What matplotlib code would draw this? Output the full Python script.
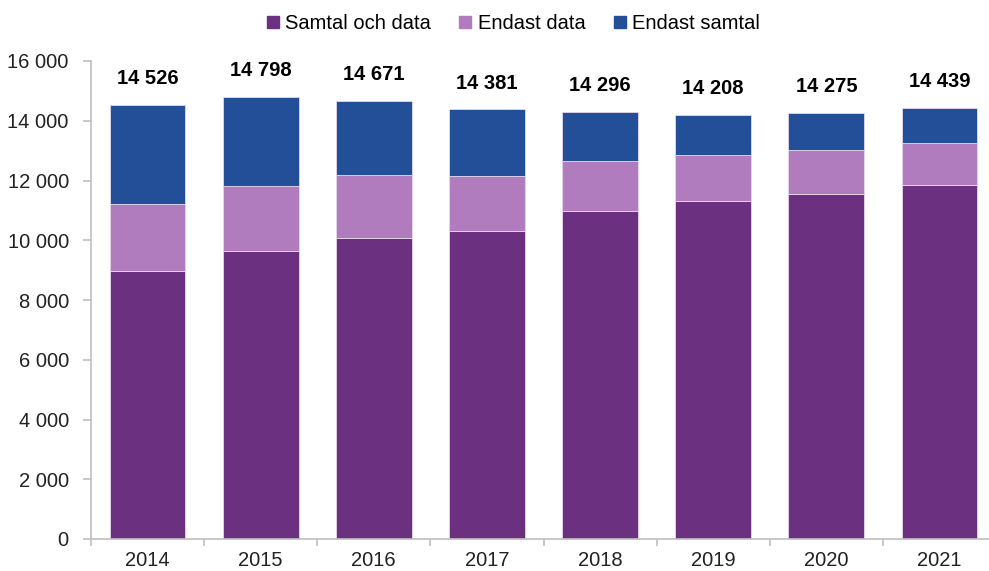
import matplotlib.pyplot as plt
from matplotlib.lines import Line2D
import numpy as np

plt.rcParams['font.family'] = ['Liberation Sans', 'DejaVu Sans']

years = ['2014', '2015', '2016', '2017', '2018', '2019', '2020', '2021']
samtal_och_data = [8980, 9640, 10070, 10310, 10990, 11310, 11550, 11840]
endast_data = [2235, 2180, 2100, 1830, 1670, 1540, 1470, 1420]
totals = [14526, 14798, 14671, 14381, 14296, 14208, 14275, 14439]
endast_samtal = [t - a - b for t, a, b in zip(totals, samtal_och_data, endast_data)]

labels = ['Samtal och data', 'Endast data', 'Endast samtal']
colors = ['#6B3080', '#B07CBE', '#234E98']

fig = plt.figure(figsize=(9.89, 5.71), dpi=100)
ax = fig.add_axes([91 / 989, 32 / 571, 905 / 989, 478 / 571])

x = np.arange(len(years))
w = 0.67
bottom = np.zeros(len(years))
for vals, col in zip([samtal_och_data, endast_data, endast_samtal], colors):
    ax.bar(x, vals, w, bottom=bottom, color=col, edgecolor='#E6D8EC', linewidth=0.6)
    bottom += np.array(vals)

for xi, t in zip(x, totals):
    ax.annotate(f'{t:,}'.replace(',', ' '), (xi, t), xytext=(0, 12), textcoords='offset points',
                ha='center', va='bottom', fontsize=14.5, fontweight='bold')

ax.set_xlim(-0.5, len(years) - 0.5)
ax.set_ylim(0, 16000)
ax.set_yticks(range(0, 16001, 2000))
ax.set_yticklabels([f'{v:,}'.replace(',', ' ') for v in range(0, 16001, 2000)])
ax.set_xticks(x)
ax.set_xticklabels(years)
ax.set_xticks(np.arange(-0.5, len(years)), minor=True)

for s in ['top', 'right']:
    ax.spines[s].set_visible(False)
for s in ['left', 'bottom']:
    ax.spines[s].set_color('#BFBFBF')
    ax.spines[s].set_linewidth(1.2)

ax.tick_params(axis='y', length=6, width=1.2, color='#BFBFBF', pad=10, labelsize=14.5, labelcolor='#222222')
ax.tick_params(axis='x', which='major', length=0, pad=9, labelsize=14.5, labelcolor='#222222')
ax.tick_params(axis='x', which='minor', length=5, width=1.2, color='#BFBFBF')

handles = [Line2D([], [], marker='s', linestyle='none', markersize=9, color=c) for c in colors]
fig.legend(handles, labels, loc='upper center', bbox_to_anchor=(0.517, 1.008), ncol=3, frameon=False,
           fontsize=14.5, handletextpad=0.1, columnspacing=1.2, handlelength=1.0)

fig.savefig('out.png', dpi=100)
